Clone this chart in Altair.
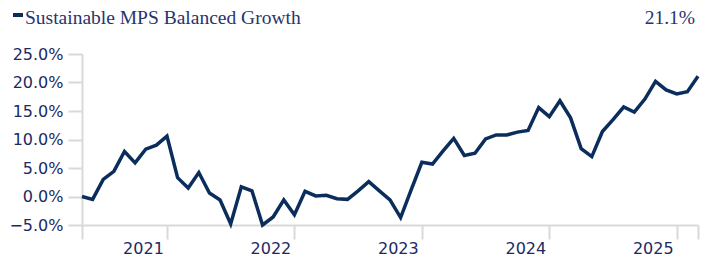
import altair as alt
import pandas as pd

# month index from start of series
months = list(range(59))
values = [0.0, -0.5, 3.0, 4.4, 7.9, 5.9, 8.3, 9.0, 10.6, 3.3,
          1.5, 4.2, 0.6, -0.6, -4.8, 1.7, 1.0, -5.0, -3.6, -0.6,
          -3.2, 0.9, 0.1, 0.2, -0.4, -0.5, 1.0, 2.6, 1.0, -0.6,
          -3.7, 1.2, 6.0, 5.7, 8.0, 10.2, 7.2, 7.6, 10.1, 10.8,
          10.8, 11.3, 11.6, 15.6, 14.0, 16.8, 13.8, 8.4, 7.0, 11.4,
          13.5, 15.7, 14.8, 17.1, 20.2, 18.7, 18.0, 18.4, 21.1]
year_ticks = [0, 8, 20, 32, 44, 56, 58]
year_labels = ["", "2021", "2022", "2023", "2024", "2025", ""]
y_ticks = [-5, 0, 5, 10, 15, 20, 25]
series_name = "Sustainable MPS Balanced Growth"
latest_label = "21.1%"

df = pd.DataFrame({"m": months, "v": values})

label_map = "{" + ",".join(f"'{t}':'{l}'" for t, l in zip(year_ticks, year_labels)) + "}"

NAVY = "#0b2d5c"
LABEL = "#1c2a62"
GRID = "#d9d9d9"
SANS = "DejaVu Sans"
SERIF = "Liberation Serif"

x = alt.X("m:Q",
          scale=alt.Scale(domain=[0, 58], nice=False, zero=False),
          axis=alt.Axis(values=year_ticks, title=None, grid=False,
                        labelExpr=f"{label_map}[datum.value + '']",
                        labelOffset=-24, labelPadding=1, tickSize=14,
                        tickWidth=2, tickColor=GRID, domainColor=GRID,
                        domainWidth=2, labelFont=SANS, labelFontSize=16,
                        labelColor=LABEL, labelOverlap=False, labelFlush=False))
y = alt.Y("v:Q",
          scale=alt.Scale(domain=[-5, 25], nice=False, zero=False),
          axis=alt.Axis(values=y_ticks, title=None, grid=False,
                        labelExpr="format(datum.value, '.1f') + '%'",
                        labelPadding=5, tickSize=14, tickWidth=2,
                        tickColor=GRID, domainColor=GRID, domainWidth=2,
                        labelFont=SANS, labelFontSize=16, labelColor=LABEL))

line = alt.Chart(df).mark_line(color=NAVY, strokeWidth=3.5, strokeJoin="miter").encode(x=x, y=y)

one = pd.DataFrame({"t": [series_name], "r": [latest_label]})
dash = alt.Chart(one).mark_rule(color=NAVY, strokeWidth=4).encode(
    x=alt.value(-69), x2=alt.value(-59), y=alt.value(-39))
title = alt.Chart(one).mark_text(align="left", baseline="alphabetic", font=SERIF,
                                 fontSize=19.5, color="#27346e").encode(
    x=alt.value(-57), y=alt.value(-30), text="t:N")
right = alt.Chart(one).mark_text(align="right", baseline="alphabetic", font=SERIF,
                                 fontSize=19.5, color="#27346e").encode(
    x=alt.value(613), y=alt.value(-30), text="r:N")

chart = alt.layer(line, dash, title, right).properties(
    width=616, height=171,
    autosize=alt.AutoSizeParams(type="none"),
    padding={"left": 74, "top": 46, "right": 7, "bottom": 35},
).configure_view(stroke=None)

chart.save("out.html", embed_options={"renderer": "svg", "actions": False})
